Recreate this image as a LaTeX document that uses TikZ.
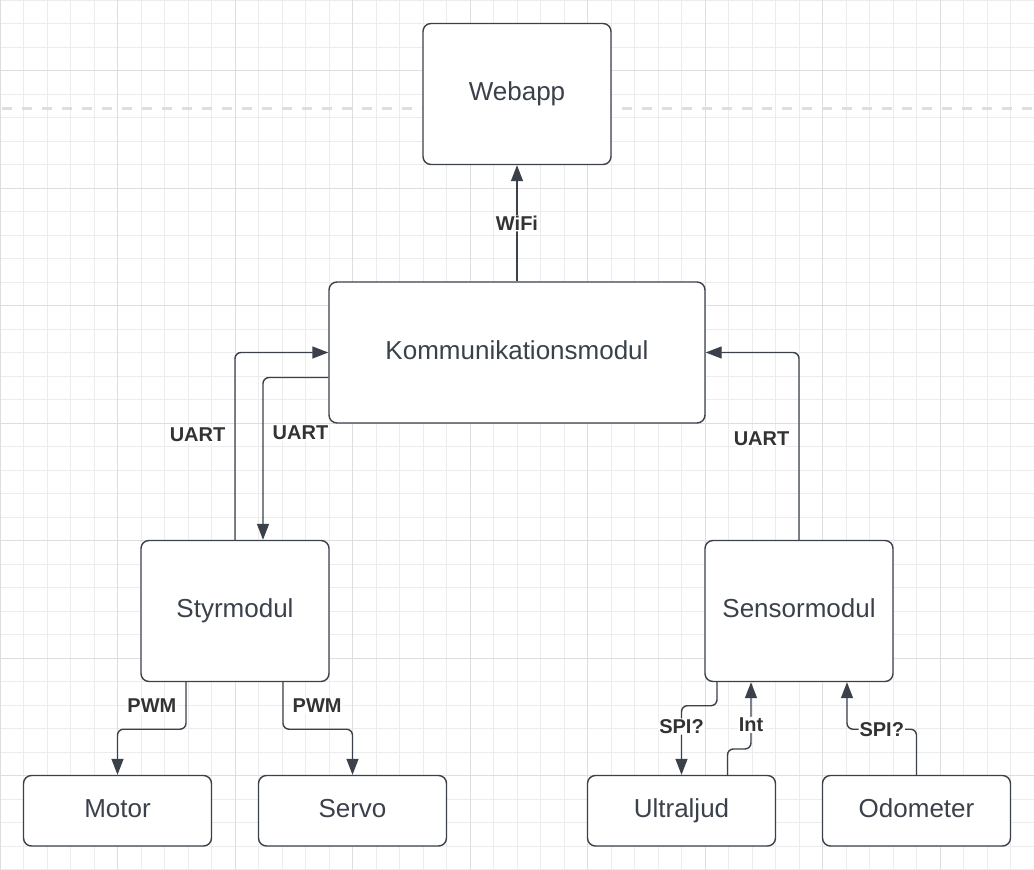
\documentclass[tikz,border=0pt]{standalone}
\usepackage{fontspec}
\setmainfont{Liberation Sans}
\usepackage{tikz}
\usetikzlibrary{arrows.meta}
\definecolor{linegray}{RGB}{58,65,74}
\definecolor{textgray}{RGB}{51,51,51}
\definecolor{gridminor}{RGB}{236,236,236}
\definecolor{gridmajor}{RGB}{222,222,222}

\begin{document}
\begin{tikzpicture}[x=23.5pt,y=-23.5pt,
  box/.style={draw=linegray,line width=1.4pt,fill=white,rounded corners=8pt,text=linegray,
    font=\fontsize{26}{30}\selectfont,inner sep=0pt,text height=19pt,text depth=6pt,minimum width=188pt},
  conn/.style={draw=linegray,line width=1.4pt,rounded corners=6pt,-{Triangle[length=16pt,width=12pt]}},
  lbl/.style={fill=white,text=textgray,font=\bfseries\fontsize{20}{24}\selectfont,inner sep=1pt}]
\useasboundingbox (0,0) rectangle (44,37.02);
\fill[white] (0,0) rectangle (44,37.02);
% grid
\foreach \i in {0,...,44}
  \draw[gridminor,line width=1pt] (\i,0) -- (\i,37.02);
\foreach \j in {0,...,37}
  \draw[gridminor,line width=1pt] (0,\j) -- (44,\j);
\foreach \i in {0,5,...,40}
  \draw[gridmajor,line width=1pt] (\i,0) -- (\i,37.02);
\foreach \j in {3,8,...,33}
  \draw[gridmajor,line width=1pt] (0,\j) -- (44,\j);
\draw[gridmajor,line width=3pt,dash pattern=on 10pt off 10pt] (0.085,4.61) -- (44,4.61);

% boxes
\node[box,minimum height=141pt] (webapp) at (22,4) {Webapp};
\node[box,minimum width=376pt,minimum height=141pt] (komm) at (22,15) {Kommunikationsmodul};
\node[box,minimum height=141pt] (styr) at (10,26) {Styrmodul};
\node[box,minimum height=141pt] (sensor) at (34,26) {Sensormodul};
\node[box,minimum height=70.5pt] (motor) at (5,34.5) {Motor};
\node[box,minimum height=70.5pt] (servo) at (15,34.5) {Servo};
\node[box,minimum height=70.5pt] (ultra) at (29,34.5) {Ultraljud};
\node[box,minimum height=70.5pt] (odo) at (39,34.5) {Odometer};

% connectors
\draw[conn] (komm.north) -- (webapp.south) node[lbl,midway] {WiFi};
\draw[conn] (styr.north) |- (komm.west) node[lbl,pos=0.28,left=8pt] {UART};
\draw[conn] ([yshift=-25pt]komm.west) -| ([xshift=28pt]styr.north) node[lbl,pos=0.67,right=8pt] {UART};
\draw[conn] (sensor.north) |- (komm.east) node[lbl,pos=0.27,left=8pt] {UART};
\draw[conn] ([xshift=-49pt]styr.south) -- ++(0,2) node[lbl,midway,left=8pt] {PWM} -| (motor.north);
\draw[conn] ([xshift=48pt]styr.south) -- ++(0,2) node[lbl,midway,right=8pt] {PWM} -| (servo.north);
\draw[conn] ([xshift=-82pt]sensor.south) -- ++(0,1) -| (ultra.north) node[lbl,pos=0.65] {SPI?};
\draw[conn] ([xshift=46pt]ultra.north) -- ++(0,-1.1) -| ([xshift=-48pt]sensor.south) node[lbl,pos=0.68] {Int};
\draw[conn] (odo.north) -- ++(0,-1.94) -| ([xshift=48pt]sensor.south) node[lbl,pos=0.25] {SPI?};
\end{tikzpicture}
\end{document}
